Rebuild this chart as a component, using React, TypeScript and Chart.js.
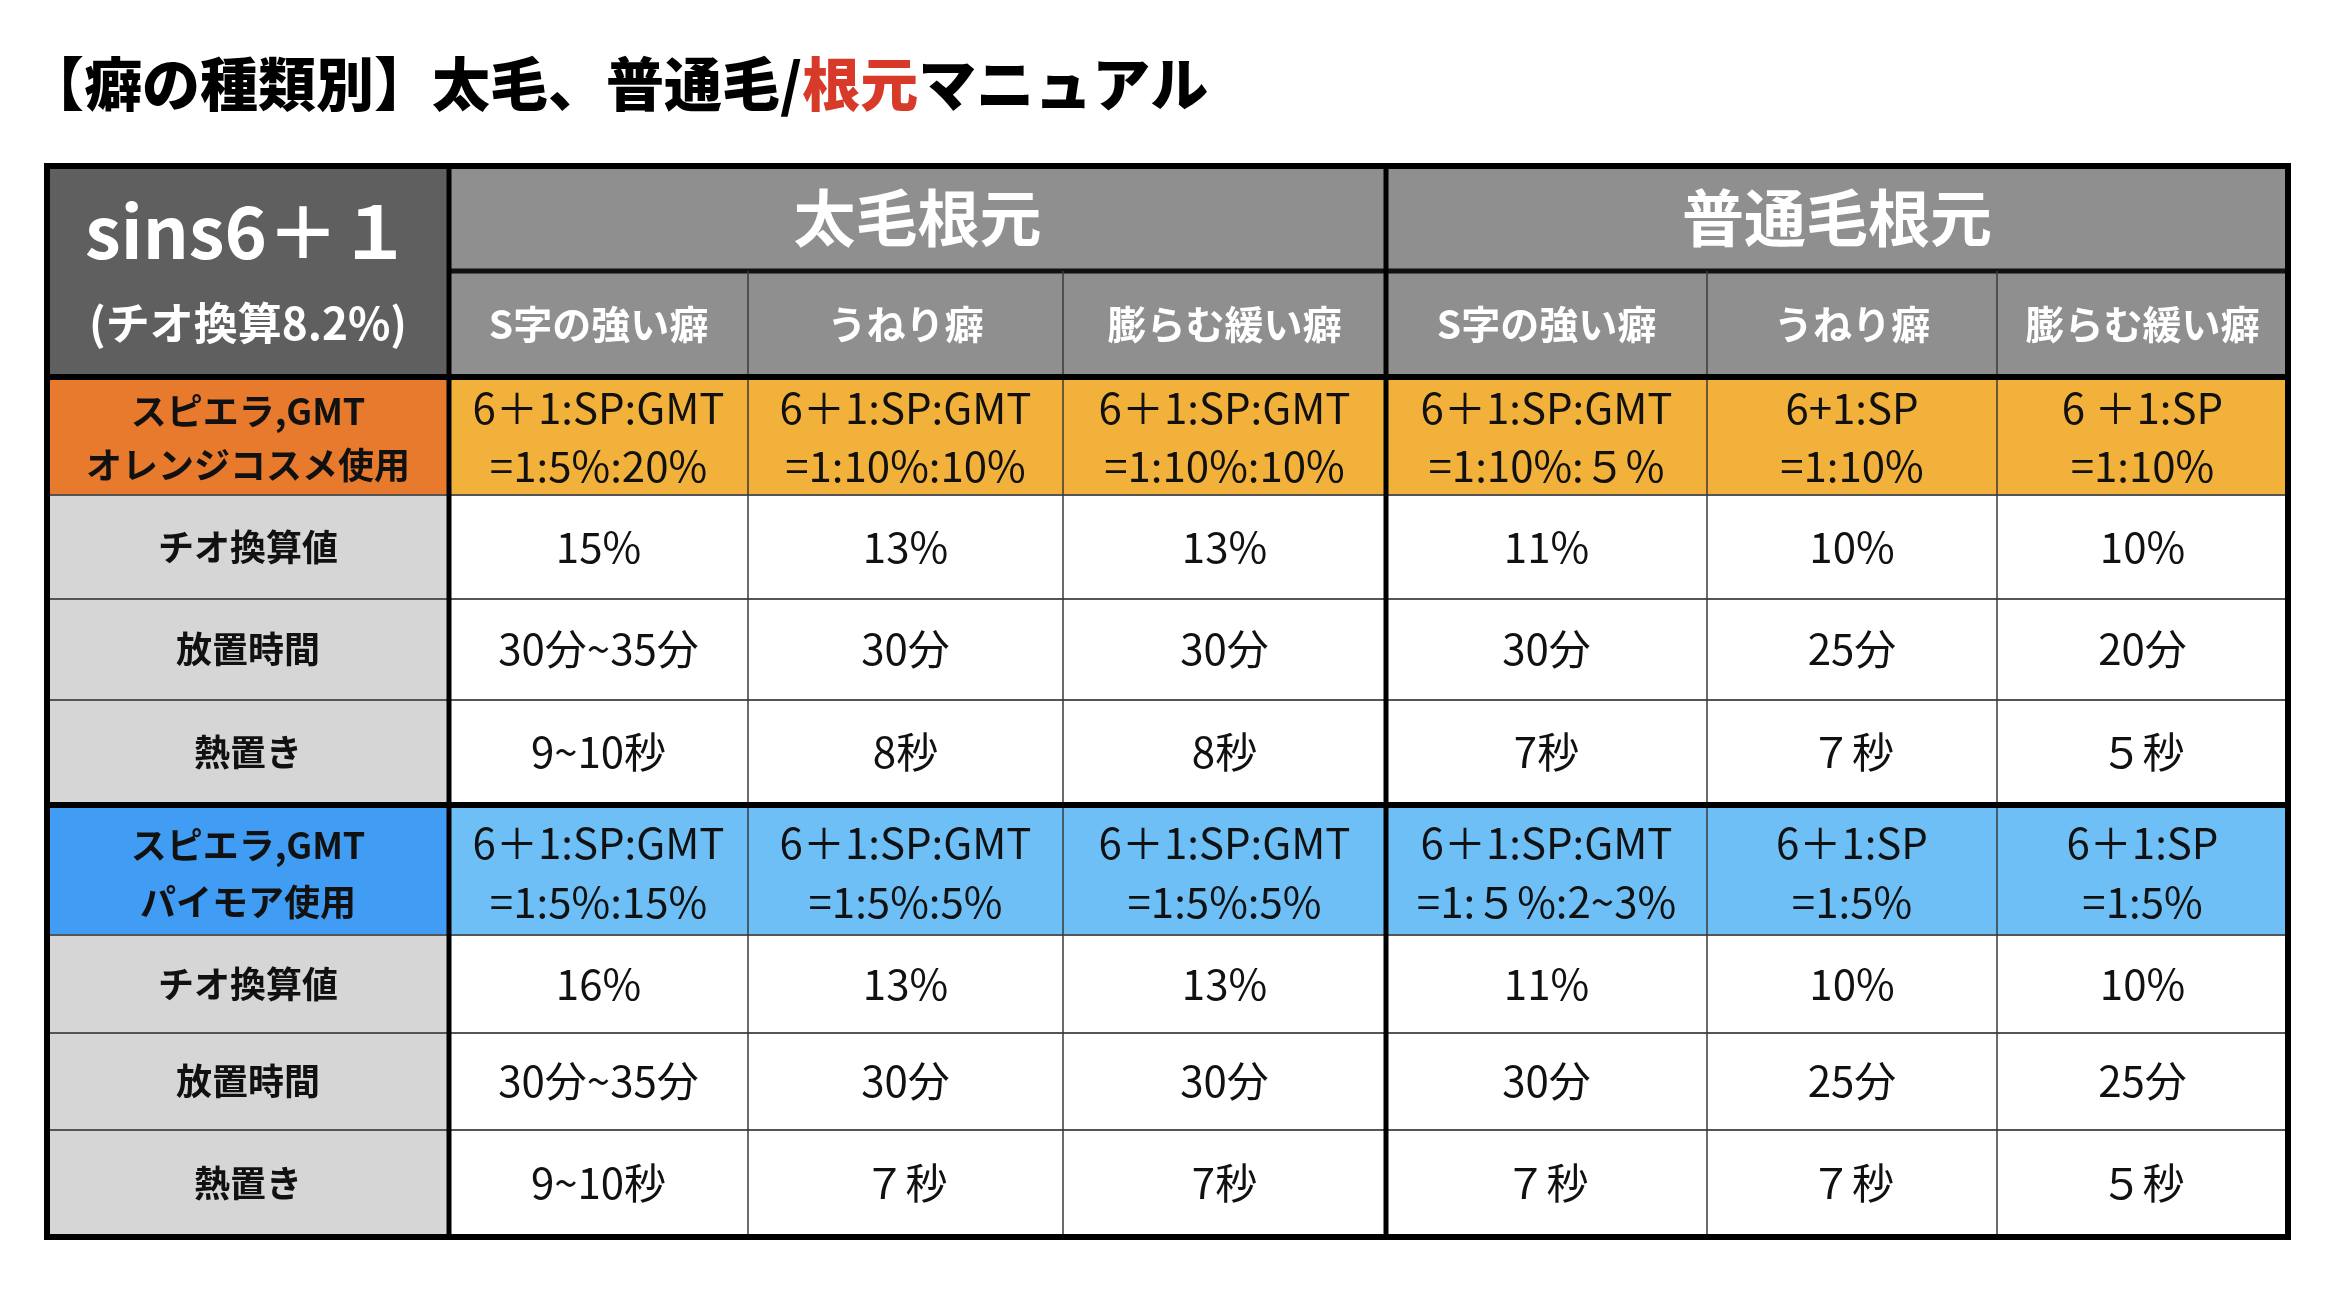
import { useEffect, useRef } from 'react';
import { Chart, registerables } from 'chart.js';

Chart.register(...registerables);

// ---- text content ----
const TITLE_BEFORE = '【癖の種類別】太毛、普通毛/';
const TITLE_RED = '根元';
const TITLE_AFTER = 'マニュアル';

const CORNER_LINES = ['sins6＋１', '(チオ換算8.2%)'];
const GROUPS = ['太毛根元', '普通毛根元'];
const SUBHEADERS = ['S字の強い癖', 'うねり癖', '膨らむ緩い癖', 'S字の強い癖', 'うねり癖', '膨らむ緩い癖'];
const ROW_LABELS = ['チオ換算値', '放置時間', '熱置き'];

const ORANGE_LABEL = ['スピエラ,GMT', 'オレンジコスメ使用'];
const ORANGE_MIX_TOP = ['6＋1:SP:GMT', '6＋1:SP:GMT', '6＋1:SP:GMT', '6＋1:SP:GMT', '6+1:SP', '6 ＋1:SP'];
const ORANGE_MIX_BOTTOM = ['=1:5%:20%', '=1:10%:10%', '=1:10%:10%', '=1:10%:５%', '=1:10%', '=1:10%'];
const ORANGE_THIO = ['15%', '13%', '13%', '11%', '10%', '10%'];
const ORANGE_TIME = ['30分~35分', '30分', '30分', '30分', '25分', '20分'];
const ORANGE_HEAT = ['9~10秒', '8秒', '8秒', '7秒', '７秒', '５秒'];

const BLUE_LABEL = ['スピエラ,GMT', 'パイモア使用'];
const BLUE_MIX_TOP = ['6＋1:SP:GMT', '6＋1:SP:GMT', '6＋1:SP:GMT', '6＋1:SP:GMT', '6＋1:SP', '6＋1:SP'];
const BLUE_MIX_BOTTOM = ['=1:5%:15%', '=1:5%:5%', '=1:5%:5%', '=1:５%:2~3%', '=1:5%', '=1:5%'];
const BLUE_THIO = ['16%', '13%', '13%', '11%', '10%', '10%'];
const BLUE_TIME = ['30分~35分', '30分', '30分', '30分', '25分', '25分'];
const BLUE_HEAT = ['9~10秒', '７秒', '7秒', '７秒', '７秒', '５秒'];

// ---- layout (scale units) ----
const COL_W = [402, 299, 315, 323, 321, 290, 291];
const ROW_H = [105, 106, 118, 104, 101, 105, 130, 98, 97, 107];

const FONT = '"Noto Sans CJK JP", "Noto Sans", sans-serif';

const C = {
  corner: '#5f5f5f',
  header: '#8f8f8f',
  orangeLabel: '#e77a2d',
  orangeCell: '#f2b13b',
  grayLabel: '#d6d6d6',
  white: '#ffffff',
  blueLabel: '#409df3',
  blueCell: '#6ebff6',
  red: '#d83a29',
};

const tablePlugin = {
  id: 'tablePlugin',
  afterDraw(chart: any) {
    const ctx: CanvasRenderingContext2D = chart.ctx;
    const xs = chart.scales.x;
    const ys = chart.scales.y;
    const cx: number[] = [0];
    COL_W.forEach((w) => cx.push(cx[cx.length - 1] + w));
    const cy: number[] = [0];
    ROW_H.forEach((h) => cy.push(cy[cy.length - 1] + h));
    const X = (i: number) => xs.getPixelForValue(cx[i]);
    const Y = (i: number) => ys.getPixelForValue(cy[i]);

    const fill = (c0: number, c1: number, r0: number, r1: number, color: string) => {
      ctx.fillStyle = color;
      ctx.fillRect(X(c0), Y(r0), X(c1) - X(c0), Y(r1) - Y(r0));
    };
    const text = (
      str: string,
      c0: number, c1: number, r0: number, r1: number,
      font: string, color: string, dy = 0
    ) => {
      ctx.font = font;
      ctx.fillStyle = color;
      ctx.textAlign = 'center';
      ctx.textBaseline = 'middle';
      ctx.fillText(str, (X(c0) + X(c1)) / 2, (Y(r0) + Y(r1)) / 2 + dy);
    };
    const hline = (r: number, c0: number, c1: number, w: number, color: string) => {
      ctx.strokeStyle = color;
      ctx.lineWidth = w;
      ctx.beginPath();
      ctx.moveTo(X(c0), Y(r));
      ctx.lineTo(X(c1), Y(r));
      ctx.stroke();
    };
    const vline = (c: number, r0: number, r1: number, w: number, color: string) => {
      ctx.strokeStyle = color;
      ctx.lineWidth = w;
      ctx.beginPath();
      ctx.moveTo(X(c), Y(r0));
      ctx.lineTo(X(c), Y(r1));
      ctx.stroke();
    };

    ctx.save();

    // title
    ctx.textBaseline = 'middle';
    ctx.textAlign = 'left';
    ctx.font = `900 58px ${FONT}`;
    let tx = 26;
    const ty = 84;
    ctx.fillStyle = '#000';
    ctx.fillText(TITLE_BEFORE, tx, ty);
    tx += ctx.measureText(TITLE_BEFORE).width;
    ctx.fillStyle = C.red;
    ctx.fillText(TITLE_RED, tx, ty);
    tx += ctx.measureText(TITLE_RED).width;
    ctx.fillStyle = '#000';
    ctx.fillText(TITLE_AFTER, tx, ty);

    // fills
    fill(0, 1, 0, 2, C.corner);
    fill(1, 7, 0, 2, C.header);
    fill(0, 1, 2, 3, C.orangeLabel);
    fill(1, 7, 2, 3, C.orangeCell);
    fill(0, 1, 3, 6, C.grayLabel);
    fill(1, 7, 3, 6, C.white);
    fill(0, 1, 6, 7, C.blueLabel);
    fill(1, 7, 6, 7, C.blueCell);
    fill(0, 1, 7, 10, C.grayLabel);
    fill(1, 7, 7, 10, C.white);

    // thin lines
    const thin = '#3a3a3a';
    [3, 4, 5, 7, 8, 9].forEach((r) => hline(r, 0, 7, 2, '#555'));
    hline(1, 1, 7, 5, '#111');
    [2, 3, 5, 6].forEach((c) => vline(c, 1, 10, 1.5, thin));

    // thick lines
    hline(2, 0, 7, 6, '#000');
    hline(6, 0, 7, 6, '#000');
    vline(1, 0, 10, 5, '#000');
    vline(4, 0, 10, 5, '#000');

    // outer border
    ctx.strokeStyle = '#000';
    ctx.lineWidth = 6;
    ctx.strokeRect(X(0), Y(0), X(7) - X(0), Y(10) - Y(0));

    // header texts
    text(CORNER_LINES[0], 0, 1, 0, 2, `bold 72px ${FONT}`, '#fff', -40);
    text(CORNER_LINES[1], 0, 1, 0, 2, `bold 44px ${FONT}`, '#fff', 52);
    text(GROUPS[0], 1, 4, 0, 1, `bold 62px ${FONT}`, '#fff', 0);
    text(GROUPS[1], 4, 7, 0, 1, `bold 62px ${FONT}`, '#fff', 0);
    SUBHEADERS.forEach((s, i) => text(s, i + 1, i + 2, 1, 2, `bold 39px ${FONT}`, '#fff', 0));

    const labelFont = `bold 36px ${FONT}`;
    const dataFont = `42px ${FONT}`;

    // orange block
    text(ORANGE_LABEL[0], 0, 1, 2, 3, labelFont, '#111', -25);
    text(ORANGE_LABEL[1], 0, 1, 2, 3, labelFont, '#111', 29);
    ORANGE_MIX_TOP.forEach((s, i) => text(s, i + 1, i + 2, 2, 3, dataFont, '#111', -28));
    ORANGE_MIX_BOTTOM.forEach((s, i) => text(s, i + 1, i + 2, 2, 3, dataFont, '#111', 30));
    [ORANGE_THIO, ORANGE_TIME, ORANGE_HEAT].forEach((arr, k) => {
      text(ROW_LABELS[k], 0, 1, 3 + k, 4 + k, labelFont, '#111', 0);
      arr.forEach((s, i) => text(s, i + 1, i + 2, 3 + k, 4 + k, dataFont, '#111', 0));
    });

    // blue block
    text(BLUE_LABEL[0], 0, 1, 6, 7, labelFont, '#111', -25);
    text(BLUE_LABEL[1], 0, 1, 6, 7, labelFont, '#111', 32);
    BLUE_MIX_TOP.forEach((s, i) => text(s, i + 1, i + 2, 6, 7, dataFont, '#111', -27));
    BLUE_MIX_BOTTOM.forEach((s, i) => text(s, i + 1, i + 2, 6, 7, dataFont, '#111', 32));
    [BLUE_THIO, BLUE_TIME, BLUE_HEAT].forEach((arr, k) => {
      text(ROW_LABELS[k], 0, 1, 7 + k, 8 + k, labelFont, '#111', 0);
      arr.forEach((s, i) => text(s, i + 1, i + 2, 7 + k, 8 + k, dataFont, '#111', 0));
    });

    ctx.restore();
  },
};

export default function App() {
  const ref = useRef<HTMLCanvasElement>(null);
  useEffect(() => {
    if (!ref.current) return;
    const totalW = COL_W.reduce((a, b) => a + b, 0);
    const totalH = ROW_H.reduce((a, b) => a + b, 0);
    const chart = new Chart(ref.current, {
      type: 'scatter',
      data: { datasets: [{ data: [], pointRadius: 0 }] },
      options: {
        animation: false,
        responsive: false,
        events: [],
        layout: { padding: { left: 47, top: 166, right: 57, bottom: 73 } },
        plugins: { legend: { display: false }, tooltip: { enabled: false }, title: { display: false } },
        scales: {
          x: { type: 'linear', min: 0, max: totalW, display: false },
          y: { type: 'linear', min: 0, max: totalH, reverse: true, display: false },
        },
      },
      plugins: [tablePlugin],
    });
    return () => chart.destroy();
  }, []);
  return (
    <div style={{ position: 'absolute', left: 0, top: 0, width: 2345, height: 1310, background: '#fff' }}>
      <canvas ref={ref} width={2345} height={1310} style={{ display: 'block' }} />
    </div>
  );
}
